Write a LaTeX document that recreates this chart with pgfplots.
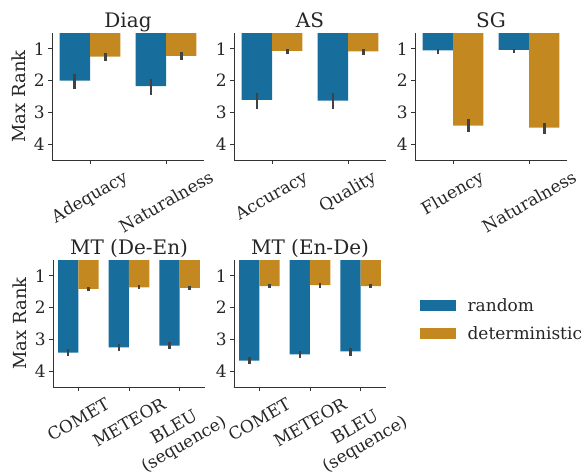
\documentclass[border=0pt]{standalone}
\usepackage{fontspec}
\setmainfont{DejaVu Serif}
\usepackage{graphicx}
\usepackage{pgfplots}
\pgfplotsset{compat=1.18}
\definecolor{cblue}{HTML}{176D9C}
\definecolor{corange}{HTML}{C38820}
\definecolor{errc}{HTML}{424242}
\definecolor{spine}{HTML}{333333}
\definecolor{txt}{HTML}{262626}
\newcommand{\rl}[1]{\rotatebox{30}{#1}}
\newcommand{\rlb}[2]{\rotatebox{30}{\begin{tabular}{@{}c@{}}#1\\#2\end{tabular}}}
\pgfplotsset{
  rankax/.style={
    scale only axis, width=152pt, height=127pt,
    y dir=reverse, ymin=0.5, ymax=4.5, ytick={1,2,3,4},
    axis x line*=bottom, axis y line*=left,
    axis line style={spine, line width=0.9pt},
    tick align=outside, major tick length=4pt,
    tick style={spine, line width=0.9pt},
    /pgf/number format/assume math mode=true,
    yticklabel style={font=\fontsize{17}{19}\selectfont, text=txt, inner sep=1pt, xshift=-2pt},
    xticklabel style={font=\fontsize{17}{19.5}\selectfont, text=txt, anchor=north, inner sep=0pt, yshift=-5.5pt},
    title style={font=\fontsize{20}{24}\selectfont, text=txt, anchor=base, yshift=0pt},
    ylabel style={font=\fontsize{18}{22}\selectfont, text=txt, at={(axis description cs:-0.217,0.5)}, anchor=center},
  },
  rnd/.style={ybar, bar width=0.4, bar shift=0pt, fill=cblue, draw=none},
  det/.style={ybar, bar width=0.4, bar shift=0pt, fill=corange, draw=none},
  err/.style={forget plot, draw=none, mark=none,
    error bars/y dir=both, error bars/y explicit, error bars/error mark=none,
    error bars/error bar style={draw=errc, line width=2.6pt}},
}
\begin{document}
\begin{tikzpicture}
\useasboundingbox (0,0) rectangle (587pt,475pt);
% Diag
\begin{axis}[rankax, at={(52pt,315pt)}, anchor=south west,
  xmin=-0.5, xmax=1.5, xtick={0,1}, xticklabels={\rl{Adequacy},\rl{Naturalness}},
  title={Diag}, ylabel={Max Rank}]
\addplot[rnd] coordinates {(-0.2,2.00) (0.8,2.17)};
\addplot[det] coordinates {(0.2,1.24) (1.2,1.22)};
\addplot[err] coordinates {(-0.2,2.00) += (0,0.27) -= (0,0.21) (0.8,2.17) += (0,0.28) -= (0,0.22)
  (0.2,1.24) += (0,0.14) -= (0,0.12) (1.2,1.22) += (0,0.14) -= (0,0.13)};
\end{axis}
% AS
\begin{axis}[rankax, at={(234pt,315pt)}, anchor=south west,
  xmin=-0.5, xmax=1.5, xtick={0,1}, xticklabels={\rl{Accuracy},\rl{Quality}},
  title={AS}]
\addplot[rnd] coordinates {(-0.2,2.61) (0.8,2.63)};
\addplot[det] coordinates {(0.2,1.06) (1.2,1.08)};
\addplot[err] coordinates {(-0.2,2.61) += (0,0.28) -= (0,0.23) (0.8,2.63) += (0,0.27) -= (0,0.25)
  (0.2,1.06) += (0,0.11) -= (0,0.06) (1.2,1.08) += (0,0.11) -= (0,0.08)};
\end{axis}
% SG
\begin{axis}[rankax, at={(415pt,315pt)}, anchor=south west,
  xmin=-0.5, xmax=1.5, xtick={0,1}, xticklabels={\rl{Fluency},\rl{Naturalness}},
  title={SG}]
\addplot[rnd] coordinates {(-0.2,1.05) (0.8,1.03)};
\addplot[det] coordinates {(0.2,3.42) (1.2,3.48)};
\addplot[err] coordinates {(-0.2,1.05) += (0,0.12) -= (0,0.05) (0.8,1.03) += (0,0.09) -= (0,0.03)
  (0.2,3.42) += (0,0.19) -= (0,0.21) (1.2,3.48) += (0,0.20) -= (0,0.16)};
\end{axis}
% MT De-En
\begin{axis}[rankax, at={(53pt,88pt)}, anchor=south west,
  xmin=-0.5, xmax=2.5, xtick={0,1,2}, xticklabels={\rl{COMET},\rl{METEOR},\rlb{BLEU}{(sequence)}},
  title={MT (De-En)}, ylabel={Max Rank}]
\addplot[rnd] coordinates {(-0.2,3.42) (0.8,3.25) (1.8,3.20)};
\addplot[det] coordinates {(0.2,1.41) (1.2,1.36) (2.2,1.38)};
\addplot[err] coordinates {(-0.2,3.42) += (0,0.10) -= (0,0.11) (0.8,3.25) += (0,0.11) -= (0,0.10) (1.8,3.20) += (0,0.09) -= (0,0.11)
  (0.2,1.41) += (0,0.06) -= (0,0.07) (1.2,1.36) += (0,0.06) -= (0,0.08) (2.2,1.38) += (0,0.06) -= (0,0.07)};
\end{axis}
% MT En-De
\begin{axis}[rankax, at={(234pt,88pt)}, anchor=south west,
  xmin=-0.5, xmax=2.5, xtick={0,1,2}, xticklabels={\rl{COMET},\rl{METEOR},\rlb{BLEU}{(sequence)}},
  title={MT (En-De)},
  legend image code/.code={\fill[#1] (0pt,-5.5pt) rectangle (36pt,5.5pt);},
  legend cell align=left,
  legend style={at={(1.2,0.53)}, anchor=west, draw=none, fill=none,
    font=\fontsize{17}{20}\selectfont, text=txt, row sep=9pt,
    nodes={inner sep=2pt}, /tikz/every odd column/.append style={column sep=10pt}}]
\addplot[rnd] coordinates {(-0.2,3.67) (0.8,3.47) (1.8,3.38)};
\addlegendentry{random}
\addplot[det] coordinates {(0.2,1.32) (1.2,1.29) (2.2,1.32)};
\addlegendentry{deterministic}
\addplot[err] coordinates {(-0.2,3.67) += (0,0.11) -= (0,0.11) (0.8,3.47) += (0,0.11) -= (0,0.09) (1.8,3.38) += (0,0.13) -= (0,0.11)
  (0.2,1.32) += (0,0.07) -= (0,0.07) (1.2,1.29) += (0,0.08) -= (0,0.06) (2.2,1.32) += (0,0.07) -= (0,0.07)};
\end{axis}
\end{tikzpicture}
\end{document}
